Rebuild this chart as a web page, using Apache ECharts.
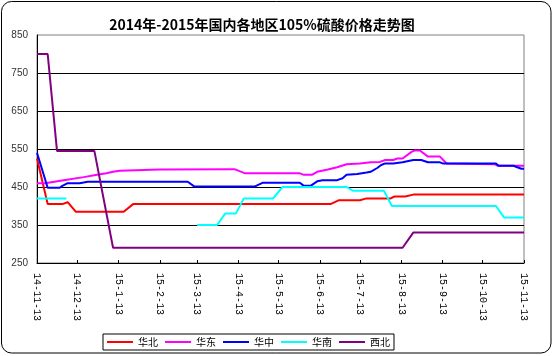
<!DOCTYPE html>
<html>
<head>
<meta charset="utf-8">
<script src="https://cdn.jsdelivr.net/npm/echarts@6/dist/echarts.min.js"></script>
<style>
html,body{margin:0;padding:0;background:#fff;}
#chart{width:553px;height:356px;}
</style>
</head>
<body>
<div id="chart"></div>
<script>
// ---- data ----
const titleText = '2014年-2015年国内各地区105%硫酸价格走势图';
const seriesNames = ['华北', '华东', '华中', '华南', '西北'];
const seriesColors = ['#FF0000', '#FF00FF', '#0000FF', '#00FFFF', '#800080'];

const northDates  = ['14-11-13','14-11-21','14-12-2','14-12-3','14-12-6','14-12-12','15-1-17','15-1-24','15-6-21','15-6-27','15-7-13','15-7-18','15-8-5','15-8-8','15-8-16','15-8-22','15-11-13'];
const northValues = [525, 405, 405, 410, 410, 385, 385, 405, 405, 415, 415, 420, 420, 425, 425, 430, 430];

const eastDates  = ['14-11-13','14-11-19','14-12-3','14-12-18','14-12-28','15-1-4','15-1-9','15-1-14','15-2-13','15-4-10','15-4-18','15-5-29','15-6-1','15-6-7','15-6-11','15-6-19','15-6-26','15-7-3','15-7-13','15-7-21','15-7-28','15-8-1','15-8-7','15-8-10','15-8-14','15-8-21','15-8-23','15-8-27','15-9-2','15-9-11','15-9-16','15-10-22','15-10-24','15-11-13'];
const eastValues = [460, 460, 468, 476, 482, 486, 490, 493, 496, 497, 486, 486, 482, 482, 490, 496, 502, 510, 512, 515, 516, 521, 521, 525, 525, 543, 546, 546, 530, 530, 512, 510, 506, 506];

const centralDates  = ['14-11-13','14-11-14','14-11-21','14-11-30','14-12-2','14-12-6','14-12-15','14-12-18','14-12-21','15-3-6','15-3-11','15-4-25','15-5-1','15-5-29','15-6-1','15-6-6','15-6-11','15-6-15','15-6-26','15-6-30','15-7-3','15-7-11','15-7-18','15-7-21','15-7-26','15-7-29','15-8-1','15-8-7','15-8-8','15-8-14','15-8-22','15-8-28','15-9-2','15-9-11','15-9-13','15-10-23','15-10-25','15-11-5','15-11-8','15-11-11','15-11-13'];
const centralValues = [540, 540, 448, 448, 453, 460, 460, 462, 464, 464, 451, 451, 461, 461, 453, 453, 465, 468, 468, 473, 482, 484, 488, 490, 500, 508, 512, 512, 515, 515, 521, 521, 515, 515, 512, 512, 506, 506, 502, 498, 498];

const southDates  = ['14-11-13','14-12-5','14-12-6','15-3-13','15-3-28','15-4-3','15-4-11','15-4-17','15-5-9','15-5-16','15-7-3','15-7-8','15-7-31','15-8-6','15-10-23','15-10-29','15-11-13'];
const southValues = [420, 420, null, 350, 350, 380, 380, 420, 420, 450, 450, 440, 440, 400, 400, 370, 370];

const northwestDates  = ['14-11-13','14-11-21','14-11-28','14-12-26','15-1-9','15-8-14','15-8-22','15-11-13'];
const northwestValues = [800, 800, 545, 545, 290, 290, 330, 330];

const yMin = 250, yMax = 850;

// daily category axis from 14-11-13 to 15-11-13
const categories = [];
(function () {
  const start = Date.UTC(2014, 10, 13);
  for (let i = 0; i <= 365; i++) {
    const d = new Date(start + i * 86400000);
    categories.push((d.getUTCFullYear() % 100) + '-' + (d.getUTCMonth() + 1) + '-' + d.getUTCDate());
  }
})();

function zip(dates, values) {
  return dates.map((d, i) => [d, values[i] === null ? '-' : values[i]]);
}
const allDates = [northDates, eastDates, centralDates, southDates, northwestDates];
const allValues = [northValues, eastValues, centralValues, southValues, northwestValues];

const isMonthTick = (idx, val) => /-13$/.test(val);

const chart = echarts.init(document.getElementById('chart'), null, {renderer: 'canvas'});
chart.setOption({
  animation: false,
  backgroundColor: '#fff',
  graphic: {
    elements: [
      {type: 'rect', z: -10, shape: {x: 1.5, y: 1.5, width: 549.5, height: 351.5, r: 10},
       style: {fill: '#fff', stroke: '#000', lineWidth: 1}}
    ]
  },
  title: {
    text: titleText,
    left: 257, textAlign: 'center', top: 13,
    textStyle: {fontFamily: '"Noto Sans CJK SC", sans-serif', fontSize: 14, fontWeight: 'bold', color: '#000'}
  },
  legend: {
    data: seriesNames,
    left: 103, top: 334,
    padding: [3, 4, 3, 4],
    borderColor: '#000', borderWidth: 1,
    icon: 'rect', itemWidth: 26, itemHeight: 2, itemGap: 7,
    textStyle: {fontFamily: '"Noto Sans CJK SC", sans-serif', fontSize: 10, color: '#000'}
  },
  grid: {
    left: 37, right: 29, top: 35, bottom: 93,
    show: true, borderColor: '#808080', borderWidth: 1, containLabel: false
  },
  xAxis: {
    type: 'category', data: categories, boundaryGap: false,
    axisLine: {show: true, lineStyle: {color: '#000', width: 1}},
    axisTick: {show: true, inside: true, length: 3, interval: isMonthTick, lineStyle: {color: '#000'}},
    axisLabel: {interval: isMonthTick, rotate: -90, margin: 10,
      fontFamily: '"Liberation Mono", monospace', fontSize: 10, color: '#000'},
    splitLine: {show: false}
  },
  yAxis: [
    {
      type: 'value', min: yMin, max: yMax, interval: 50,
      axisLine: {show: true, lineStyle: {color: '#000', width: 1}},
      axisTick: {show: false},
      splitLine: {show: false},
      axisLabel: {margin: 9, fontFamily: '"Liberation Sans", Arial, sans-serif', fontSize: 10, color: '#333',
        formatter: v => ((v - yMin) % 100 === 0 ? String(v) : '')}
    },
    {
      type: 'value', min: 0, max: yMax - yMin, interval: 100, position: 'left',
      axisLine: {show: false}, axisTick: {show: false}, axisLabel: {show: false},
      splitLine: {show: true, showMinLine: false, showMaxLine: false, lineStyle: {color: '#000', width: 1}}
    }
  ],
  series: seriesNames.map((name, i) => ({
    name: name, type: 'line', yAxisIndex: 0,
    data: zip(allDates[i], allValues[i]),
    symbol: 'none', connectNulls: false,
    lineStyle: {color: seriesColors[i], width: 2},
    itemStyle: {color: seriesColors[i]}
  }))
});
</script>
</body>
</html>
